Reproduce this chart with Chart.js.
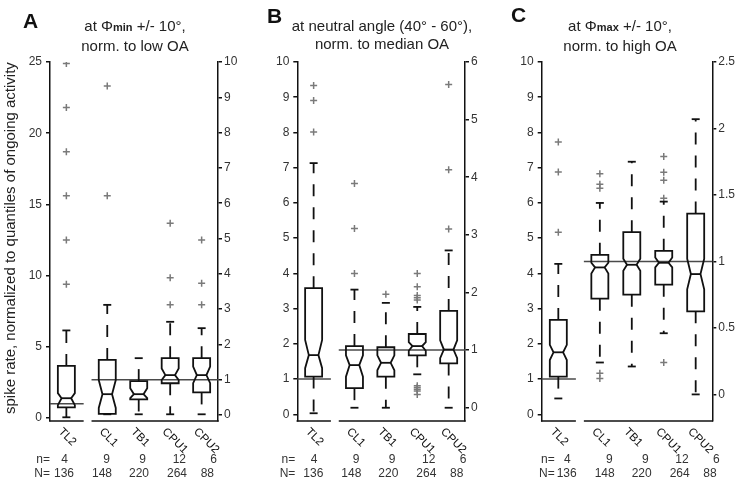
<!DOCTYPE html>
<html>
<head>
<meta charset="utf-8">
<script src="https://cdn.jsdelivr.net/npm/chart.js@4.4.1/dist/chart.umd.min.js"></script>
<style>
  body { margin: 0; background: #fff; font-family: Arial, "Liberation Sans", sans-serif; }
  #wrap { position: relative; width: 738px; height: 481px; overflow: hidden; }
  canvas { position: absolute; top: 0; }
  .letter { position: absolute; font-weight: bold; font-size: 21px; line-height: 21px; color: #111; }
  .title { position: absolute; width: 240px; text-align: center; font-size: 15px; line-height: 17.5px; color: #222; white-space: nowrap; }
  .sub { font-size: 11px; font-weight: bold; }
</style>
</head>
<body>
<div id="wrap">
  <canvas id="cA" width="246" height="481" style="left:0px"></canvas>
  <canvas id="cB" width="246" height="481" style="left:246px"></canvas>
  <canvas id="cC" width="246" height="481" style="left:492px"></canvas>
  <div class="letter" style="left:23px;top:10px">A</div>
  <div class="letter" style="left:267px;top:5px">B</div>
  <div class="letter" style="left:511px;top:4px">C</div>
  <div class="title" style="left:15px;top:17px">at &Phi;<span class="sub">min</span> +/- 10°,<br>norm. to low OA</div>
  <div class="title" style="left:262px;top:17px">at neutral angle (40° - 60°),<br>norm. to median OA</div>
  <div class="title" style="left:500px;top:17px">at &Phi;<span class="sub">max</span> +/- 10°,<br>norm. to high OA</div>
</div>
<script>
// categories and counts (same for all three panels)
const groups = ['TL2', 'CL1', 'TB1', 'CPU1', 'CPU2'];
const nCells = [4, 9, 9, 12, 6];
const nSpikes = [136, 148, 220, 264, 88];
const yTitle = 'spike rate, normalized to quantiles of ongoing activity';

// TL2 is read on the left axis, the other groups on the right axis
// panel A
const aWhiskHi = [6.15, 3.12, 1.61, 2.64, 2.46];
const aQ3      = [3.66, 1.56, 0.96, 1.61, 1.61];
const aNotchHi = [1.75, 0.99, 0.76, 1.32, 1.37];
const aMedian  = [1.39, 0.59, 0.59, 1.13, 1.13];
const aNotchLo = [0.90, 0.20, 0.48, 0.99, 0.90];
const aQ1      = [0.75, 0.03, 0.44, 0.90, 0.64];
const aWhiskLo = [0.05, 0.02, 0.02, 0.02, 0.02];
const aOutliers = [[24.9, 21.8, 18.7, 15.6, 12.5, 9.4], [9.32, 6.21], [], [5.43, 3.89, 3.12], [4.96, 3.73, 3.12]];
const aLeftTicks = [0, 5, 10, 15, 20, 25];
const aRightTicks = [0, 1, 2, 3, 4, 5, 6, 7, 8, 9, 10];

// panel B
const bWhiskHi = [7.13, 2.05, 1.82, 1.75, 2.73];
const bQ3      = [3.58, 1.07, 1.05, 1.28, 1.68];
const bNotchHi = [2.11, 0.91, 0.91, 1.14, 1.17];
const bMedian  = [1.68, 0.74, 0.78, 1.07, 1.01];
const bNotchLo = [1.31, 0.54, 0.65, 0.99, 0.86];
const bQ1      = [1.07, 0.34, 0.54, 0.91, 0.77];
const bWhiskLo = [0.03, 0.00, 0.00, 0.58, 0.00];
const bOutliers = [[9.33, 8.91, 8.01], [3.89, 3.11, 2.33], [1.97], [2.33, 2.10, 1.95, 1.91, 1.87, 0.38, 0.35, 0.32, 0.29, 0.23], [5.61, 4.13, 3.10]];
const bLeftTicks = [0, 1, 2, 3, 4, 5, 6, 7, 8, 9, 10];
const bRightTicks = [0, 1, 2, 3, 4, 5, 6];

// panel C
const cWhiskHi = [4.27, 1.44, 1.75, 1.45, 2.07];
const cQ3      = [2.68, 1.05, 1.22, 1.08, 1.36];
const cNotchHi = [1.97, 0.99, 1.02, 1.03, 1.02];
const cMedian  = [1.76, 0.955, 0.975, 0.99, 0.905];
const cNotchLo = [1.54, 0.91, 0.93, 0.955, 0.79];
const cQ1      = [1.07, 0.72, 0.75, 0.825, 0.625];
const cWhiskLo = [0.45, 0.24, 0.21, 0.46, 0.00];
const cOutliers = [[7.73, 6.88, 5.17], [1.66, 1.58, 1.55, 0.16, 0.12], [], [1.79, 1.67, 1.61, 1.475, 0.24], []];
const cLeftTicks = [0, 1, 2, 3, 4, 5, 6, 7, 8, 9, 10];
const cRightTicks = [0, 0.5, 1, 1.5, 2, 2.5];

// layout
const slots = [1, 2.3, 3.3, 4.3, 5.3];
const gapFrom = 1.55, gapTo = 1.8;
const BOX = 8.5, NOTCH = 4.8, CAP = 4;
const INK = '#111';
const nCols = [20, 62, 98, 138, 169];
const NCols = [26, 64, 101, 139, 166];

function seg(ctx, x1, y1, x2, y2) {
  ctx.beginPath(); ctx.moveTo(x1, y1); ctx.lineTo(x2, y2); ctx.stroke();
}

function buildPanel(p) {
  const tl2Pts = p.out[0].map(v => ({ x: slots[0], y: v }));
  const otherPts = [];
  p.out.forEach((list, i) => { if (i > 0) list.forEach(v => otherPts.push({ x: slots[i], y: v })); });

  const boxes = {
    id: 'boxes',
    beforeDatasetsDraw(chart) {
      const { ctx, chartArea: a } = chart;
      const x = chart.scales.x, yl = chart.scales.y, yr = chart.scales.y1;
      const s1 = x.getPixelForValue(gapFrom), s2 = x.getPixelForValue(gapTo);
      ctx.save();
      ctx.lineWidth = 1.5;
      ctx.strokeStyle = '#4a4a4a';
      let py = yl.getPixelForValue(1);
      seg(ctx, a.left, py, s1, py);
      py = yr.getPixelForValue(1);
      seg(ctx, s2, py, a.right, py);
      ctx.strokeStyle = INK;
      seg(ctx, a.left - 0.75, a.bottom, s1, a.bottom);
      seg(ctx, s2, a.bottom, a.right + 0.75, a.bottom);
      ctx.restore();
    },
    afterDatasetsDraw(chart) {
      const { ctx } = chart;
      const x = chart.scales.x;
      ctx.save();
      ctx.strokeStyle = INK;
      ctx.lineWidth = 1.8;
      groups.forEach((g, i) => {
        const ys = i === 0 ? chart.scales.y : chart.scales.y1;
        const xc = x.getPixelForValue(slots[i]);
        const hi = ys.getPixelForValue(p.hi[i]);
        const q3 = ys.getPixelForValue(p.q3[i]);
        const nh = ys.getPixelForValue(p.nh[i]);
        const md = ys.getPixelForValue(p.md[i]);
        const nl = ys.getPixelForValue(p.nl[i]);
        const q1 = ys.getPixelForValue(p.q1[i]);
        const lo = ys.getPixelForValue(p.lo[i]);
        // whiskers
        ctx.setLineDash([12, 11]);
        if (hi < q3 - 1) seg(ctx, xc, q3, xc, hi);
        if (lo > q1 + 1) seg(ctx, xc, q1, xc, lo);
        ctx.setLineDash([]);
        seg(ctx, xc - CAP, hi, xc + CAP, hi);
        seg(ctx, xc - CAP, lo, xc + CAP, lo);
        // notched box
        ctx.beginPath();
        ctx.moveTo(xc - BOX, q3);
        ctx.lineTo(xc + BOX, q3);
        ctx.lineTo(xc + BOX, nh);
        ctx.lineTo(xc + NOTCH, md);
        ctx.lineTo(xc + BOX, nl);
        ctx.lineTo(xc + BOX, q1);
        ctx.lineTo(xc - BOX, q1);
        ctx.lineTo(xc - BOX, nl);
        ctx.lineTo(xc - NOTCH, md);
        ctx.lineTo(xc - BOX, nh);
        ctx.closePath();
        ctx.stroke();
        seg(ctx, xc - NOTCH, md, xc + NOTCH, md);
      });
      ctx.restore();
    },
    afterDraw(chart) {
      const { ctx, chartArea: a } = chart;
      const x = chart.scales.x;
      ctx.save();
      ctx.fillStyle = INK;
      ctx.font = '11.5px Arial';
      groups.forEach((g, i) => {
        ctx.save();
        ctx.translate(x.getPixelForValue(slots[i]) - 2, a.bottom + 5);
        ctx.rotate(Math.PI / 4);
        ctx.textAlign = 'left';
        ctx.textBaseline = 'top';
        ctx.fillText(g, 0, 0);
        ctx.restore();
      });
      ctx.font = '12px Arial';
      ctx.fillStyle = '#333';
      ctx.textAlign = 'right';
      ctx.textBaseline = 'alphabetic';
      const L = a.left + p.tableShift;
      ctx.fillText('n=', L + p.eqShift, 463);
      ctx.fillText('N=', L + p.eqShift, 477);
      nCells.forEach((n, i) => ctx.fillText(String(n), L + nCols[i], 463));
      nSpikes.forEach((n, i) => ctx.fillText(String(n), L + NCols[i], 477));
      if (p.yTitle) {
        ctx.translate(15, 414);
        ctx.rotate(-Math.PI / 2);
        ctx.font = '15px Arial';
        ctx.textAlign = 'left';
        ctx.fillStyle = '#222';
        ctx.fillText(yTitle, 0, 0);
      }
      ctx.restore();
    }
  };

  const axis = (pos, range, ticks, width, pad) => ({
    type: 'linear',
    position: pos,
    min: range[0],
    max: range[1],
    afterFit: s => { s.width = width; },
    afterBuildTicks: s => { s.ticks = ticks.map(v => ({ value: v })); },
    grid: { drawOnChartArea: false, drawTicks: true, tickLength: 4, color: INK, lineWidth: 1.5 },
    border: { display: true, color: INK, width: 1.5 },
    ticks: { font: { family: 'Arial', size: 12 }, color: '#333', padding: pad, callback: v => String(v) }
  });

  new Chart(document.getElementById(p.canvas), {
    type: 'scatter',
    data: {
      datasets: [
        { data: tl2Pts, yAxisID: 'y' },
        { data: otherPts, yAxisID: 'y1' }
      ]
    },
    options: {
      responsive: false,
      animation: false,
      events: [],
      layout: { padding: { top: 62, bottom: 60, left: 0, right: 0 } },
      elements: { point: { pointStyle: 'cross', radius: 3.5, borderWidth: 1.5, borderColor: '#7a7a7a', backgroundColor: '#7a7a7a' } },
      plugins: { legend: { display: false }, tooltip: { enabled: false } },
      scales: {
        x: { type: 'linear', display: false, min: 0.48, max: 5.82 },
        y: axis('left', p.leftRange, p.leftTicks, p.leftW, 4),
        y1: axis('right', p.rightRange, p.rightTicks, p.rightW, 2)
      }
    },
    plugins: [boxes]
  });
}

buildPanel({ canvas: 'cA', hi: aWhiskHi, q3: aQ3, nh: aNotchHi, md: aMedian, nl: aNotchLo, q1: aQ1, lo: aWhiskLo, out: aOutliers,
  leftTicks: aLeftTicks, rightTicks: aRightTicks, leftRange: [-0.21, 25], rightRange: [-0.17, 10],
  leftW: 50, rightW: 28, tableShift: -2, eqShift: 2, yTitle: true });
buildPanel({ canvas: 'cB', hi: bWhiskHi, q3: bQ3, nh: bNotchHi, md: bMedian, nl: bNotchLo, q1: bQ1, lo: bWhiskLo, out: bOutliers,
  leftTicks: bLeftTicks, rightTicks: bRightTicks, leftRange: [-0.19, 10], rightRange: [-0.23, 6],
  leftW: 51.3, rightW: 27, tableShift: 0, eqShift: -2, yTitle: false });
buildPanel({ canvas: 'cC', hi: cWhiskHi, q3: cQ3, nh: cNotchHi, md: cMedian, nl: cNotchLo, q1: cQ1, lo: cWhiskLo, out: cOutliers,
  leftTicks: cLeftTicks, rightTicks: cRightTicks, leftRange: [-0.19, 10], rightRange: [-0.2, 2.5],
  leftW: 49.7, rightW: 25.7, tableShift: 9, eqShift: 4, yTitle: false });
</script>
</body>
</html>
